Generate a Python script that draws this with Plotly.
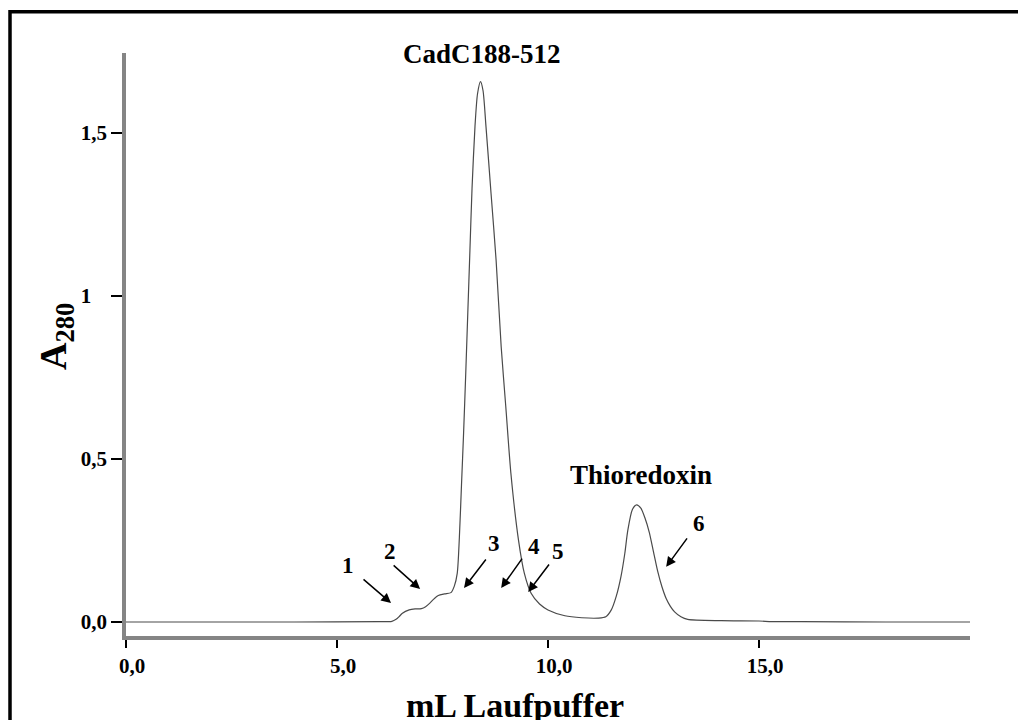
import plotly.graph_objects as go

# Elution volume (mL) and absorbance at 280 nm
elution_ml = [0.0, 2.0, 4.0, 6.0, 6.3, 6.4, 6.47, 6.55, 6.71, 6.85, 7.0, 7.1, 7.2, 7.3, 7.4,
              7.55, 7.7, 7.78, 7.85, 7.9, 7.95, 8.0, 8.05, 8.1, 8.15, 8.2, 8.27, 8.33, 8.4,
              8.46, 8.53, 8.65, 8.77, 8.89, 9.0, 9.12, 9.3, 9.44, 9.6, 9.8, 10.0, 10.4, 10.8,
              11.2, 11.37, 11.5, 11.62, 11.73, 11.82, 11.89, 12.0, 12.1, 12.2, 12.3, 12.4,
              12.5, 12.6, 12.7, 12.8, 12.9, 13.0, 13.15, 13.31, 14.1, 15.0, 15.3, 16.0, 18.0, 20.0]
absorbance = [0.0, 0.0, 0.0, 0.001, 0.002, 0.008, 0.016, 0.027, 0.037, 0.040, 0.041, 0.047,
              0.058, 0.071, 0.081, 0.086, 0.090, 0.110, 0.15, 0.26, 0.42, 0.58, 0.76, 0.95,
              1.14, 1.33, 1.52, 1.62, 1.657, 1.63, 1.52, 1.315, 1.11, 0.845, 0.66, 0.457,
              0.252, 0.149, 0.088, 0.055, 0.037, 0.019, 0.013, 0.012, 0.016, 0.037, 0.08,
              0.14, 0.21, 0.28, 0.345, 0.359, 0.349, 0.318, 0.275,
              0.215, 0.155, 0.108, 0.072, 0.048, 0.031, 0.016, 0.008, 0.004, 0.003, 0.001, 0.001, 0.0, 0.0]

x_tick_vals = [0, 5, 10, 15]
x_tick_text = ["0,0", "5,0", "10,0", "15,0"]
y_tick_vals = [0, 0.5, 1, 1.5]
y_tick_text = ["0,0", "0,5", "1\u2008\u2007", "1,5"]

peak_labels = ["CadC188-512", "Thioredoxin"]
fraction_labels = ["1", "2", "3", "4", "5", "6"]

FONT = "Liberation Serif, Times New Roman, serif"

L, T, W, H = 126, 53, 844, 583
def px(xp):
    return (xp - L) / W
def py(yp):
    return (T + H - yp) / H

fig = go.Figure()
fig.add_trace(go.Scatter(
    x=elution_ml, y=absorbance, mode="lines",
    line=dict(color="#4a4a4a", width=1.2, shape="spline", smoothing=0.7),
    hoverinfo="skip", showlegend=False))

def bold(size):
    return dict(family=FONT, size=size, color="black", weight="bold")

ann = []
# peak labels
ann.append(dict(text=peak_labels[0], x=px(482), y=py(54), xref="paper", yref="paper",
                xanchor="center", yanchor="middle", showarrow=False, font=bold(27)))
ann.append(dict(text=peak_labels[1], x=px(641), y=py(475), xref="paper", yref="paper",
                xanchor="center", yanchor="middle", showarrow=False, font=bold(27)))
# axis titles
ann.append(dict(text="mL Laufpuffer", x=px(515), y=py(705), xref="paper", yref="paper",
                xanchor="center", yanchor="middle", showarrow=False, font=bold(34)))
ann.append(dict(text="A<sub>280</sub>", x=px(56), y=py(337), xref="paper", yref="paper",
                xanchor="center", yanchor="middle", textangle=-90, showarrow=False,
                font=bold(38)))

# fraction arrows: head position (data), tail offset (pixels)
arrow_heads = [(6.28, 0.058), (6.97, 0.101), (8.01, 0.104), (8.89, 0.104), (9.53, 0.092), (12.80, 0.169)]
arrow_tails = [(-29, -25), (-28, -25), (23, -30), (22, -31), (22, -29), (22, -30)]
label_pos = [(5.26, 0.172), (6.26, 0.215), (8.72, 0.242), (9.67, 0.230), (10.24, 0.215), (13.58, 0.301)]
for lab, (hx, hy), (tx, ty), (lx, ly) in zip(fraction_labels, arrow_heads, arrow_tails, label_pos):
    ann.append(dict(text="", x=hx, y=hy, xref="x", yref="y", ax=tx, ay=ty,
                    showarrow=True, arrowhead=2, arrowsize=1.3, arrowwidth=1.5,
                    arrowcolor="black", standoff=0))
    ann.append(dict(text=lab, x=lx, y=ly, xref="x", yref="y", showarrow=False,
                    xanchor="center", yanchor="middle", font=bold(23)))

# black frame (top and left edges visible; right/bottom run off the page)
shapes = [dict(type="rect", xref="paper", yref="paper",
               x0=px(10), x1=px(1040), y0=py(745), y1=py(11.7),
               line=dict(color="black", width=3.5), fillcolor="rgba(0,0,0,0)", layer="above")]

fig.update_layout(
    width=1018, height=720,
    margin=dict(l=L, r=1018 - L - W, t=T, b=720 - T - H),
    paper_bgcolor="white", plot_bgcolor="white",
    annotations=ann, shapes=shapes, showlegend=False,
    xaxis=dict(range=[0, 20], tickvals=x_tick_vals, ticktext=x_tick_text,
               showgrid=False, zeroline=False, showline=True, linecolor="#858585", linewidth=3.5,
               ticks="outside", ticklen=8, tickwidth=2, tickcolor="black", ticklabelshift=6,
               tickfont=bold(21)),
    yaxis=dict(range=[-0.043, 1.745], tickvals=y_tick_vals, ticktext=y_tick_text,
               showgrid=False, zeroline=False, showline=True, linecolor="#858585", linewidth=3.5,
               ticks="outside", ticklen=11, tickwidth=2, tickcolor="black",
               tickfont=bold(21)),
)

fig.write_html("out.html")
